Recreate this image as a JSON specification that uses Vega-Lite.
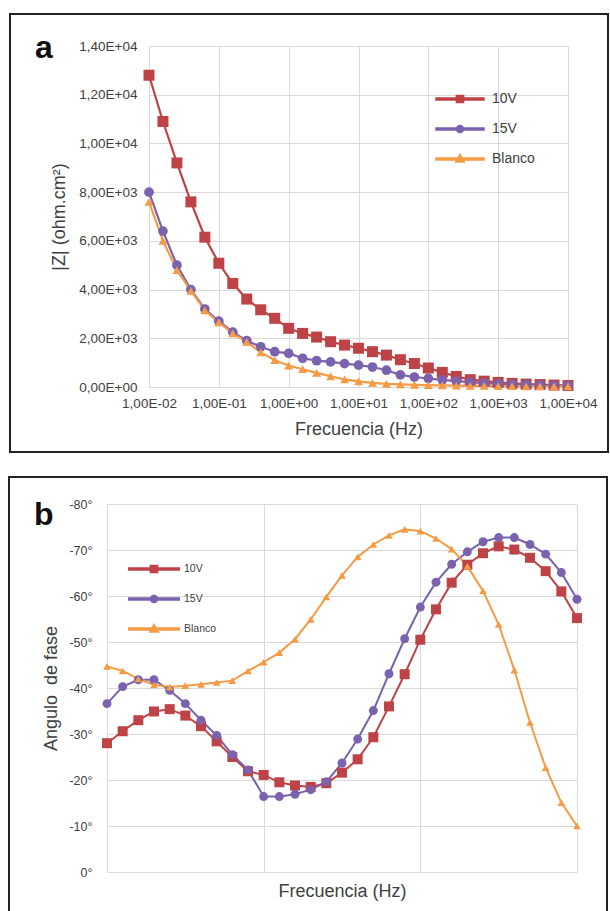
{
  "$schema": "https://vega.github.io/schema/vega-lite/v6.json",
  "padding": {"left": 7, "top": 12, "right": 0, "bottom": 0},
  "background": "white",
  "config": {"font": "Liberation Sans", "view": {"stroke": null}},
  "bounds": "full",
  "spacing": 21,
  "resolve": {"scale": {"x": "independent", "y": "independent", "color": "independent", "shape": "independent"}, "legend": {"color": "independent", "shape": "independent"}},
  "datasets": {
    "impedancia": [
      {"f": 0.01, "serie": "10V", "z": 12800}, {"f": 0.01, "serie": "15V", "z": 8000}, {"f": 0.01, "serie": "Blanco", "z": 7600},
      {"f": 0.01585, "serie": "10V", "z": 10900}, {"f": 0.01585, "serie": "15V", "z": 6400}, {"f": 0.01585, "serie": "Blanco", "z": 6000},
      {"f": 0.02512, "serie": "10V", "z": 9200}, {"f": 0.02512, "serie": "15V", "z": 5000}, {"f": 0.02512, "serie": "Blanco", "z": 4800},
      {"f": 0.03981, "serie": "10V", "z": 7600}, {"f": 0.03981, "serie": "15V", "z": 4000}, {"f": 0.03981, "serie": "Blanco", "z": 3950},
      {"f": 0.0631, "serie": "10V", "z": 6150}, {"f": 0.0631, "serie": "15V", "z": 3200}, {"f": 0.0631, "serie": "Blanco", "z": 3150},
      {"f": 0.1, "serie": "10V", "z": 5080}, {"f": 0.1, "serie": "15V", "z": 2700}, {"f": 0.1, "serie": "Blanco", "z": 2650},
      {"f": 0.1585, "serie": "10V", "z": 4250}, {"f": 0.1585, "serie": "15V", "z": 2250}, {"f": 0.1585, "serie": "Blanco", "z": 2200},
      {"f": 0.2512, "serie": "10V", "z": 3610}, {"f": 0.2512, "serie": "15V", "z": 1900}, {"f": 0.2512, "serie": "Blanco", "z": 1850},
      {"f": 0.3981, "serie": "10V", "z": 3170}, {"f": 0.3981, "serie": "15V", "z": 1650}, {"f": 0.3981, "serie": "Blanco", "z": 1420},
      {"f": 0.631, "serie": "10V", "z": 2820}, {"f": 0.631, "serie": "15V", "z": 1450}, {"f": 0.631, "serie": "Blanco", "z": 1100},
      {"f": 1, "serie": "10V", "z": 2410}, {"f": 1, "serie": "15V", "z": 1380}, {"f": 1, "serie": "Blanco", "z": 880},
      {"f": 1.585, "serie": "10V", "z": 2200}, {"f": 1.585, "serie": "15V", "z": 1180}, {"f": 1.585, "serie": "Blanco", "z": 730},
      {"f": 2.512, "serie": "10V", "z": 2050}, {"f": 2.512, "serie": "15V", "z": 1080}, {"f": 2.512, "serie": "Blanco", "z": 580},
      {"f": 3.981, "serie": "10V", "z": 1860}, {"f": 3.981, "serie": "15V", "z": 1030}, {"f": 3.981, "serie": "Blanco", "z": 440},
      {"f": 6.31, "serie": "10V", "z": 1720}, {"f": 6.31, "serie": "15V", "z": 960}, {"f": 6.31, "serie": "Blanco", "z": 310},
      {"f": 10, "serie": "10V", "z": 1590}, {"f": 10, "serie": "15V", "z": 900}, {"f": 10, "serie": "Blanco", "z": 230},
      {"f": 15.85, "serie": "10V", "z": 1450}, {"f": 15.85, "serie": "15V", "z": 820}, {"f": 15.85, "serie": "Blanco", "z": 170},
      {"f": 25.12, "serie": "10V", "z": 1310}, {"f": 25.12, "serie": "15V", "z": 690}, {"f": 25.12, "serie": "Blanco", "z": 130},
      {"f": 39.81, "serie": "10V", "z": 1120}, {"f": 39.81, "serie": "15V", "z": 500}, {"f": 39.81, "serie": "Blanco", "z": 105},
      {"f": 63.1, "serie": "10V", "z": 965}, {"f": 63.1, "serie": "15V", "z": 410}, {"f": 63.1, "serie": "Blanco", "z": 90},
      {"f": 100, "serie": "10V", "z": 780}, {"f": 100, "serie": "15V", "z": 350}, {"f": 100, "serie": "Blanco", "z": 75},
      {"f": 158.5, "serie": "10V", "z": 600}, {"f": 158.5, "serie": "15V", "z": 290}, {"f": 158.5, "serie": "Blanco", "z": 65},
      {"f": 251.2, "serie": "10V", "z": 430}, {"f": 251.2, "serie": "15V", "z": 240}, {"f": 251.2, "serie": "Blanco", "z": 55},
      {"f": 398.1, "serie": "10V", "z": 300}, {"f": 398.1, "serie": "15V", "z": 200}, {"f": 398.1, "serie": "Blanco", "z": 50},
      {"f": 631, "serie": "10V", "z": 240}, {"f": 631, "serie": "15V", "z": 160}, {"f": 631, "serie": "Blanco", "z": 45},
      {"f": 1000, "serie": "10V", "z": 190}, {"f": 1000, "serie": "15V", "z": 130}, {"f": 1000, "serie": "Blanco", "z": 40},
      {"f": 1585, "serie": "10V", "z": 150}, {"f": 1585, "serie": "15V", "z": 110}, {"f": 1585, "serie": "Blanco", "z": 35},
      {"f": 2512, "serie": "10V", "z": 120}, {"f": 2512, "serie": "15V", "z": 95}, {"f": 2512, "serie": "Blanco", "z": 30},
      {"f": 3981, "serie": "10V", "z": 100}, {"f": 3981, "serie": "15V", "z": 80}, {"f": 3981, "serie": "Blanco", "z": 30},
      {"f": 6310, "serie": "10V", "z": 80}, {"f": 6310, "serie": "15V", "z": 70}, {"f": 6310, "serie": "Blanco", "z": 25},
      {"f": 10000, "serie": "10V", "z": 60}, {"f": 10000, "serie": "15V", "z": 60}, {"f": 10000, "serie": "Blanco", "z": 25}
    ],
    "fase": [
      {"f": 0.01, "serie": "10V", "a": -28.0}, {"f": 0.01, "serie": "15V", "a": -36.6}, {"f": 0.01, "serie": "Blanco", "a": -44.7},
      {"f": 0.01585, "serie": "10V", "a": -30.6}, {"f": 0.01585, "serie": "15V", "a": -40.3}, {"f": 0.01585, "serie": "Blanco", "a": -43.7},
      {"f": 0.02512, "serie": "10V", "a": -33.0}, {"f": 0.02512, "serie": "15V", "a": -41.8}, {"f": 0.02512, "serie": "Blanco", "a": -42.0},
      {"f": 0.03981, "serie": "10V", "a": -34.9}, {"f": 0.03981, "serie": "15V", "a": -41.8}, {"f": 0.03981, "serie": "Blanco", "a": -40.7},
      {"f": 0.0631, "serie": "10V", "a": -35.4}, {"f": 0.0631, "serie": "15V", "a": -39.5}, {"f": 0.0631, "serie": "Blanco", "a": -40.2},
      {"f": 0.1, "serie": "10V", "a": -34.0}, {"f": 0.1, "serie": "15V", "a": -36.6}, {"f": 0.1, "serie": "Blanco", "a": -40.5},
      {"f": 0.1585, "serie": "10V", "a": -31.7}, {"f": 0.1585, "serie": "15V", "a": -33.0}, {"f": 0.1585, "serie": "Blanco", "a": -40.8},
      {"f": 0.2512, "serie": "10V", "a": -28.4}, {"f": 0.2512, "serie": "15V", "a": -29.7}, {"f": 0.2512, "serie": "Blanco", "a": -41.2},
      {"f": 0.3981, "serie": "10V", "a": -25.0}, {"f": 0.3981, "serie": "15V", "a": -25.5}, {"f": 0.3981, "serie": "Blanco", "a": -41.6},
      {"f": 0.631, "serie": "10V", "a": -21.9}, {"f": 0.631, "serie": "15V", "a": -22.2}, {"f": 0.631, "serie": "Blanco", "a": -43.7},
      {"f": 1, "serie": "10V", "a": -21.1}, {"f": 1, "serie": "15V", "a": -16.4}, {"f": 1, "serie": "Blanco", "a": -45.6},
      {"f": 1.585, "serie": "10V", "a": -19.5}, {"f": 1.585, "serie": "15V", "a": -16.4}, {"f": 1.585, "serie": "Blanco", "a": -47.7},
      {"f": 2.512, "serie": "10V", "a": -18.8}, {"f": 2.512, "serie": "15V", "a": -16.9}, {"f": 2.512, "serie": "Blanco", "a": -50.6},
      {"f": 3.981, "serie": "10V", "a": -18.5}, {"f": 3.981, "serie": "15V", "a": -17.9}, {"f": 3.981, "serie": "Blanco", "a": -54.9},
      {"f": 6.31, "serie": "10V", "a": -19.3}, {"f": 6.31, "serie": "15V", "a": -19.6}, {"f": 6.31, "serie": "Blanco", "a": -59.8},
      {"f": 10, "serie": "10V", "a": -21.6}, {"f": 10, "serie": "15V", "a": -23.7}, {"f": 10, "serie": "Blanco", "a": -64.5},
      {"f": 15.85, "serie": "10V", "a": -24.5}, {"f": 15.85, "serie": "15V", "a": -28.9}, {"f": 15.85, "serie": "Blanco", "a": -68.5},
      {"f": 25.12, "serie": "10V", "a": -29.3}, {"f": 25.12, "serie": "15V", "a": -35.1}, {"f": 25.12, "serie": "Blanco", "a": -71.2},
      {"f": 39.81, "serie": "10V", "a": -36.0}, {"f": 39.81, "serie": "15V", "a": -43.1}, {"f": 39.81, "serie": "Blanco", "a": -73.2},
      {"f": 63.1, "serie": "10V", "a": -43.0}, {"f": 63.1, "serie": "15V", "a": -50.7}, {"f": 63.1, "serie": "Blanco", "a": -74.5},
      {"f": 100, "serie": "10V", "a": -50.5}, {"f": 100, "serie": "15V", "a": -57.6}, {"f": 100, "serie": "Blanco", "a": -74.1},
      {"f": 158.5, "serie": "10V", "a": -57.1}, {"f": 158.5, "serie": "15V", "a": -63.0}, {"f": 158.5, "serie": "Blanco", "a": -72.5},
      {"f": 251.2, "serie": "10V", "a": -62.9}, {"f": 251.2, "serie": "15V", "a": -66.9}, {"f": 251.2, "serie": "Blanco", "a": -70.2},
      {"f": 398.1, "serie": "10V", "a": -66.8}, {"f": 398.1, "serie": "15V", "a": -69.6}, {"f": 398.1, "serie": "Blanco", "a": -66.5},
      {"f": 631, "serie": "10V", "a": -69.3}, {"f": 631, "serie": "15V", "a": -71.8}, {"f": 631, "serie": "Blanco", "a": -61.1},
      {"f": 1000, "serie": "10V", "a": -70.8}, {"f": 1000, "serie": "15V", "a": -72.7}, {"f": 1000, "serie": "Blanco", "a": -53.8},
      {"f": 1585, "serie": "10V", "a": -70.1}, {"f": 1585, "serie": "15V", "a": -72.7}, {"f": 1585, "serie": "Blanco", "a": -43.9},
      {"f": 2512, "serie": "10V", "a": -68.3}, {"f": 2512, "serie": "15V", "a": -71.2}, {"f": 2512, "serie": "Blanco", "a": -32.5},
      {"f": 3981, "serie": "10V", "a": -65.4}, {"f": 3981, "serie": "15V", "a": -69.1}, {"f": 3981, "serie": "Blanco", "a": -22.7},
      {"f": 6310, "serie": "10V", "a": -61.0}, {"f": 6310, "serie": "15V", "a": -65.1}, {"f": 6310, "serie": "Blanco", "a": -15.1},
      {"f": 10000, "serie": "10V", "a": -55.2}, {"f": 10000, "serie": "15V", "a": -59.3}, {"f": 10000, "serie": "Blanco", "a": -10.0}
    ]
  },
  "vconcat": [
    {
      "bounds": "full",
      "spacing": 0,
      "hconcat": [
        {"width": 1, "height": 1, "data": {"values": []}, "mark": {"type": "point", "opacity": 0}},
        {
          "width": 419,
          "height": 341,
          "title": {"text": "a", "anchor": "start", "frame": "group", "align": "left", "baseline": "alphabetic", "fontSize": 32, "fontWeight": "bold", "color": "#111111", "offset": 0, "dx": -114, "dy": 77},
          "layer": [
            {
              "data": {"values": [{}]},
              "mark": {"type": "rect", "filled": false, "stroke": "#222222", "strokeWidth": 2},
              "encoding": {
                "x": {"datum": 0.0001022, "type": "quantitative"},
                "x2": {"datum": 37390},
                "y": {"datum": 15314, "type": "quantitative"},
                "y2": {"datum": -2669}
              }
            },
            {
              "data": {"name": "impedancia"},
              "mark": {"type": "line", "strokeWidth": 2.2},
              "encoding": {
                "x": {"field": "f", "type": "quantitative", "scale": {"type": "log", "domain": [0.01, 10000], "nice": false},
                  "axis": {"values": [0.01, 0.1, 1, 10, 100, 1000, 10000], "labelExpr": "replace(replace(replace(format(datum.value, '.2e'), '.', ','), 'e+', 'E+0'), 'e-', 'E-0')", "title": "Frecuencia (Hz)", "grid": true, "gridColor": "#d9d9d9", "domain": false, "ticks": false, "labelPadding": 9, "labelFontSize": 13.5, "labelColor": "#404040", "labelFlush": false, "labelOverlap": false, "titleFontSize": 18, "titleFontWeight": "normal", "titleColor": "#404040", "titlePadding": 11}},
                "y": {"field": "z", "type": "quantitative", "scale": {"domain": [0, 14000], "nice": false},
                  "axis": {"values": [0, 2000, 4000, 6000, 8000, 10000, 12000, 14000], "labelExpr": "replace(replace(format(datum.value, '.2e'), '.', ','), 'e+', 'E+0')", "title": "|Z| (ohm.cm²)", "grid": true, "gridColor": "#d9d9d9", "domain": false, "ticks": false, "labelPadding": 12, "labelFontSize": 13.5, "labelColor": "#404040", "titleFontSize": 18, "titleFontWeight": "normal", "titleColor": "#404040", "titlePadding": 10}},
                "color": {"field": "serie", "type": "nominal", "scale": {"domain": ["10V", "15V", "Blanco"], "range": ["#BE4346", "#7A62AE", "#F59A45"]}}
              }
            },
            {
              "data": {"name": "impedancia"},
              "transform": [{"filter": "datum.serie === '10V'"}],
              "mark": {"type": "point", "filled": true, "opacity": 1, "shape": "square", "size": 121},
              "encoding": {
                "x": {"field": "f", "type": "quantitative"},
                "y": {"field": "z", "type": "quantitative"},
                "color": {"field": "serie", "type": "nominal"}
              }
            },
            {
              "data": {"name": "impedancia"},
              "transform": [{"filter": "datum.serie === '15V'"}],
              "mark": {"type": "point", "filled": true, "opacity": 1, "shape": "circle", "size": 95},
              "encoding": {
                "x": {"field": "f", "type": "quantitative"},
                "y": {"field": "z", "type": "quantitative"},
                "color": {"field": "serie", "type": "nominal"}
              }
            },
            {
              "data": {"name": "impedancia"},
              "transform": [{"filter": "datum.serie === 'Blanco'"}],
              "mark": {"type": "point", "filled": true, "opacity": 1, "shape": "triangle-up", "size": 80},
              "encoding": {
                "x": {"field": "f", "type": "quantitative"},
                "y": {"field": "z", "type": "quantitative"},
                "color": {"field": "serie", "type": "nominal"}
              }
            },
            {
              "data": {"name": "impedancia"},
              "mark": {"type": "point", "filled": true, "opacity": 0, "size": 576},
              "encoding": {
                "x": {"field": "f", "type": "quantitative"},
                "y": {"field": "z", "type": "quantitative"},
                "color": {"field": "serie", "type": "nominal",
                  "legend": {"orient": "none", "legendX": 440, "legendY": 40, "title": null, "padding": 0, "symbolSize": 576, "symbolOpacity": 1, "labelOffset": 19, "rowPadding": 10, "labelFontSize": 14, "labelColor": "#404040"}},
                "shape": {"field": "serie", "type": "nominal",
                  "scale": {"domain": ["10V", "15V", "Blanco"], "range": ["M-2,-0.08H2V0.08H-2ZM-0.3,-0.3H0.3V0.3H-0.3Z", "M-2,-0.08H2V0.08H-2ZM0.3,0A0.3,0.3,0,1,1,-0.3,0A0.3,0.3,0,1,1,0.3,0Z", "M-2,-0.08H2V0.08H-2ZM0,-0.38L0.36,0.24H-0.36Z"]},
                  "legend": {"orient": "none", "legendX": 440, "legendY": 40, "title": null, "padding": 0, "symbolSize": 576, "symbolOpacity": 1, "labelOffset": 19, "rowPadding": 10, "labelFontSize": 14, "labelColor": "#404040"}}
              }
            }
          ]
        }
      ]
    },
    {
      "bounds": "full",
      "spacing": 0,
      "hconcat": [
        {"width": 1, "height": 1, "data": {"values": []}, "mark": {"type": "point", "opacity": 0}},
        {
          "width": 470,
          "height": 368,
          "title": {"text": "b", "anchor": "start", "frame": "group", "align": "left", "baseline": "alphabetic", "fontSize": 32, "fontWeight": "bold", "color": "#111111", "offset": 0, "dx": -73, "dy": 81},
          "layer": [
            {
              "data": {"values": [{}]},
              "mark": {"type": "rect", "filled": false, "stroke": "#222222", "strokeWidth": 2},
              "encoding": {
                "x": {"datum": 0.000561, "type": "quantitative"},
                "x2": {"datum": 24150},
                "y": {"datum": -85.87, "type": "quantitative"},
                "y2": {"datum": 8.7}
              }
            },
            {
              "data": {"name": "fase"},
              "mark": {"type": "line", "strokeWidth": 2},
              "encoding": {
                "x": {"field": "f", "type": "quantitative", "scale": {"type": "log", "domain": [0.01, 10000], "nice": false},
                  "axis": {"values": [0.01, 1, 100, 10000], "labels": false, "title": "Frecuencia (Hz)", "grid": true, "gridColor": "#d9d9d9", "domain": false, "ticks": false, "titleFontSize": 18, "titleFontWeight": "normal", "titleColor": "#404040", "titlePadding": 10}},
                "y": {"field": "a", "type": "quantitative", "scale": {"domain": [-80, 0], "reverse": true, "nice": false},
                  "axis": {"values": [-80, -70, -60, -50, -40, -30, -20, -10, 0], "labelExpr": "datum.value + '°'", "title": "Angulo\u00a0 de fase", "grid": true, "gridColor": "#d9d9d9", "domain": false, "ticks": false, "labelPadding": 15, "labelFontSize": 12.5, "labelColor": "#404040", "titleFontSize": 18, "titleFontWeight": "normal", "titleColor": "#404040", "titlePadding": 8}},
                "color": {"field": "serie", "type": "nominal", "scale": {"domain": ["10V", "15V", "Blanco"], "range": ["#BE4346", "#7A62AE", "#F59A45"]}}
              }
            },
            {
              "data": {"name": "fase"},
              "transform": [{"filter": "datum.serie === '10V'"}],
              "mark": {"type": "point", "filled": true, "opacity": 1, "shape": "square", "size": 100},
              "encoding": {
                "x": {"field": "f", "type": "quantitative"},
                "y": {"field": "a", "type": "quantitative"},
                "color": {"field": "serie", "type": "nominal"}
              }
            },
            {
              "data": {"name": "fase"},
              "transform": [{"filter": "datum.serie === '15V'"}],
              "mark": {"type": "point", "filled": true, "opacity": 1, "shape": "circle", "size": 80},
              "encoding": {
                "x": {"field": "f", "type": "quantitative"},
                "y": {"field": "a", "type": "quantitative"},
                "color": {"field": "serie", "type": "nominal"}
              }
            },
            {
              "data": {"name": "fase"},
              "transform": [{"filter": "datum.serie === 'Blanco'"}],
              "mark": {"type": "point", "filled": true, "opacity": 1, "shape": "triangle-up", "size": 60},
              "encoding": {
                "x": {"field": "f", "type": "quantitative"},
                "y": {"field": "a", "type": "quantitative"},
                "color": {"field": "serie", "type": "nominal"}
              }
            },
            {
              "data": {"name": "fase"},
              "mark": {"type": "point", "filled": true, "opacity": 0, "size": 576},
              "encoding": {
                "x": {"field": "f", "type": "quantitative"},
                "y": {"field": "a", "type": "quantitative"},
                "color": {"field": "serie", "type": "nominal",
                  "legend": {"orient": "none", "legendX": 134, "legendY": 52, "title": null, "padding": 0, "symbolSize": 576, "symbolOpacity": 1, "labelOffset": 17, "rowPadding": 10, "labelFontSize": 10.5, "labelColor": "#404040"}},
                "shape": {"field": "serie", "type": "nominal",
                  "scale": {"domain": ["10V", "15V", "Blanco"], "range": ["M-2.1,-0.08H2.1V0.08H-2.1ZM-0.3,-0.3H0.3V0.3H-0.3Z", "M-2.1,-0.08H2.1V0.08H-2.1ZM0.3,0A0.3,0.3,0,1,1,-0.3,0A0.3,0.3,0,1,1,0.3,0Z", "M-2.1,-0.08H2.1V0.08H-2.1ZM0,-0.38L0.36,0.24H-0.36Z"]},
                  "legend": {"orient": "none", "legendX": 134, "legendY": 52, "title": null, "padding": 0, "symbolSize": 576, "symbolOpacity": 1, "labelOffset": 17, "rowPadding": 10, "labelFontSize": 10.5, "labelColor": "#404040"}}
              }
            }
          ]
        }
      ]
    }
  ]
}
